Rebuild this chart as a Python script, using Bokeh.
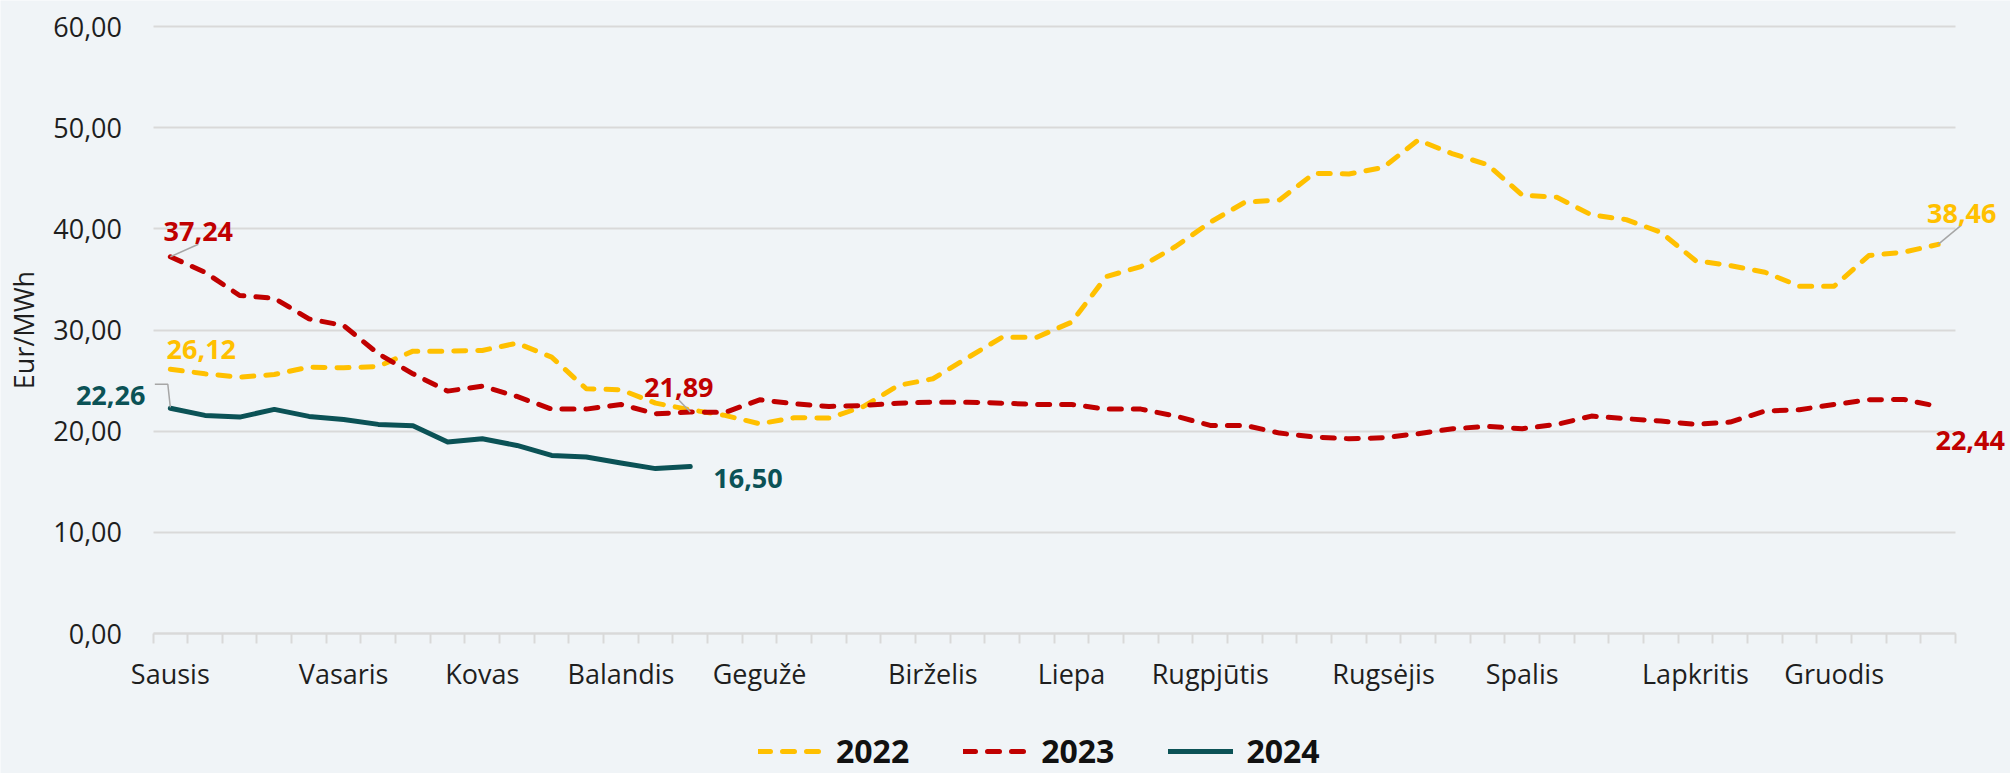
from bokeh.plotting import figure
from bokeh.models import Range1d, FixedTicker, Label, Legend, LegendItem
from bokeh.embed import file_html
from bokeh.resources import INLINE

# ---------------- data ----------------
months = ["Sausis", "Vasaris", "Kovas", "Balandis", "Gegužė", "Birželis",
          "Liepa", "Rugpjūtis", "Rugsėjis", "Spalis", "Lapkritis", "Gruodis"]
month_week = [0, 5, 9, 13, 17, 22, 26, 30, 35, 39, 44, 48]

y2022 = [26.12, 25.67, 25.34, 25.60, 26.33, 26.26, 26.40, 27.91, 27.91, 27.98,
         28.70, 27.32, 24.19, 24.09, 22.77, 22.12, 21.56, 20.73, 21.33, 21.29,
         22.44, 24.52, 25.18, 27.25, 29.29, 29.29, 30.77, 35.28, 36.27, 38.25,
         40.65, 42.63, 42.86, 45.49, 45.42, 46.08, 48.78, 47.40, 46.35, 43.33,
         43.12, 41.37, 40.91, 39.66, 36.86, 36.37, 35.71, 34.33, 34.33, 37.36,
         37.69, 38.46]
y2023 = [37.24, 35.71, 33.41, 33.14, 31.10, 30.44, 27.65, 25.67, 23.96, 24.45,
         23.43, 22.18, 22.18, 22.64, 21.72, 21.89, 21.85, 23.10, 22.71, 22.44,
         22.54, 22.77, 22.87, 22.87, 22.77, 22.64, 22.64, 22.18, 22.18, 21.49,
         20.57, 20.57, 19.81, 19.42, 19.25, 19.35, 19.75, 20.24, 20.47, 20.24,
         20.67, 21.49, 21.23, 21.00, 20.67, 20.90, 21.98, 22.12, 22.64, 23.10,
         23.14, 22.44]
y2024 = [22.26, 21.56, 21.39, 22.15, 21.46, 21.16, 20.67, 20.53, 18.92, 19.25,
         18.59, 17.60, 17.44, 16.85, 16.30, 16.50]
y_ticks = [0, 10, 20, 30, 40, 50, 60]
series_names = ["2022", "2023", "2024"]
y_title = "Eur/MWh"

# ---------------- style / layout ----------------
BG = "#F0F4F7"
GRID = "#D9D9D9"
C22, C23, C24 = "#FFC000", "#C00000", "#0B5256"
TXT = "#1E1E1E"
FONT = "Open Sans"

W, H = 2010, 773
Y60_PX, Y0_PX = 26.0, 633.0             # pixel rows of values 60 and 0
PLOT_L, PLOT_R = 152.5, 1955.0          # where the category axis spans
N = len(y2022)
PX_X = (PLOT_R - PLOT_L) / N
PX_Y = (Y0_PX - Y60_PX) / 60.0
x_start = -0.5 - PLOT_L / PX_X
x_end = N - 0.5 + (W - PLOT_R) / PX_X
y_start = -(H - Y0_PX) / PX_Y
y_end = 60 + Y60_PX / PX_Y

# the frame covers the whole canvas so that no label is clipped
p = figure(width=W, height=H, output_backend="svg", toolbar_location=None,
           x_range=Range1d(x_start, x_end), y_range=Range1d(y_start, y_end),
           min_border_left=0, min_border_right=0,
           min_border_top=0, min_border_bottom=0,
           background_fill_color=BG, border_fill_color=BG,
           outline_line_color=None)

# grid lines limited to the category span
grid = p.ygrid[0]
grid.ticker = FixedTicker(ticks=y_ticks)
if "cross_bounds" in grid.properties():
    grid.cross_bounds = (-0.5, N - 0.5)
    grid.grid_line_color = GRID
    grid.grid_line_width = 2
else:
    grid.grid_line_color = None
    p.segment(x0=[-0.5] * len(y_ticks), x1=[N - 0.5] * len(y_ticks),
              y0=y_ticks, y1=y_ticks, line_color=GRID, line_width=2)
p.xgrid.grid_line_color = None

x22 = list(range(len(y2022)))
x23 = list(range(len(y2023)))
x24 = list(range(len(y2024)))

r22 = p.line(x22, y2022, line_color=C22, line_width=5, line_dash="12 12",
             line_cap="round", line_join="round")
r23 = p.line(x23, y2023, line_color=C23, line_width=5, line_dash="12 12",
             line_cap="round", line_join="round")
r24 = p.line(x24, y2024, line_color=C24, line_width=5,
             line_cap="round", line_join="round")

# x axis, fixed at value 0
xa = p.xaxis[0]
xa.fixed_location = 0
xa.bounds = (-0.5, N - 0.5)
xa.ticker = FixedTicker(ticks=month_week,
                        minor_ticks=[i - 0.5 for i in range(N + 1)])
xa.major_label_overrides = {w: m for w, m in zip(month_week, months)}
xa.major_tick_line_color = None
xa.major_tick_out = 0
xa.major_tick_in = 0
xa.minor_tick_line_color = GRID
xa.minor_tick_line_width = 2
xa.minor_tick_out = 10
xa.minor_tick_in = 0
xa.axis_line_color = GRID
xa.axis_line_width = 2
xa.major_label_text_font = FONT
xa.major_label_text_font_size = "27px"
xa.major_label_text_color = TXT
xa.major_label_standoff = 11

# y axis, fixed at the left edge of the category span
ya = p.yaxis[0]
ya.fixed_location = -0.5
ya.bounds = (0, 60)
ya.ticker = FixedTicker(ticks=y_ticks)
ya.major_label_overrides = {t: f"{t:.2f}".replace(".", ",") for t in y_ticks}
ya.axis_line_color = None
ya.major_tick_line_color = None
ya.major_tick_out = 0
ya.major_tick_in = 0
ya.minor_tick_line_color = None
ya.major_label_standoff = 31
ya.major_label_text_font = FONT
ya.major_label_text_font_size = "27px"
ya.major_label_text_color = TXT

# y axis title, centred on the value span
p.add_layout(Label(x=x_start + 22.5 / PX_X, y=(y_ticks[0] + y_ticks[-1]) / 2,
                   text=y_title, angle=90, angle_units="deg",
                   text_align="center", text_baseline="middle",
                   text_font=FONT, text_font_size="27px", text_color=TXT))

# data labels
def fmt(v):
    return f"{v:.2f}".replace(".", ",")

last24 = len(y2024) - 1
label_specs = [
    # (x index, value, color, align, x_off, y_off)
    (0, y2023[0], C23, "center", 28, 25),
    (0, y2022[0], C22, "center", 31, 19.5),
    (0, y2024[0], C24, "right", -25, 12.6),
    (last24, y2024[-1], C24, "left", 23, -12),
    (last24, y2023[last24], C23, "center", -11.5, 24.7),
    (N - 1, y2022[-1], C22, "center", 23.6, 31),
    (N - 1, y2023[-1], C23, "center", 32, -34),
]
for xi, v, c, al, xo, yo in label_specs:
    p.add_layout(Label(x=xi, y=v, text=fmt(v), x_offset=xo, y_offset=yo,
                       text_align=al, text_baseline="alphabetic",
                       text_font=FONT, text_font_size="27px",
                       text_font_style="bold", text_color=c))

# leader lines (pixel offsets from the data point, screen y down)
leaders = [
    (0, y2023[0], [(0, 0), (28, -12.5)]),
    (0, y2024[0], [(0, -1), (-2.5, -24), (-15.5, -24)]),
    (last24, y2023[last24], [(0, 0), (-11.5, -12)]),
    (N - 1, y2022[-1], [(0, 0), (23.5, -19.5)]),
]
xs, ys = [], []
for xi, v, pts in leaders:
    xs.append([xi + dx / PX_X for dx, dy in pts])
    ys.append([v - dy / PX_Y for dx, dy in pts])
p.multi_line(xs, ys, line_color="#A6A6A6", line_width=1.5)

# legend inside the frame, below the category labels
legend = Legend(items=[LegendItem(label=n, renderers=[r])
                       for n, r in zip(series_names, [r22, r23, r24])],
                orientation="horizontal", location=(758, 1),
                glyph_width=65, glyph_height=20, label_standoff=13,
                spacing=54, padding=0, margin=0,
                label_text_font=FONT, label_text_font_size="32px",
                label_text_font_style="bold", label_text_color="#111111",
                background_fill_alpha=0, border_line_color=None)
p.add_layout(legend)

open("out.html", "w").write(file_html(p, INLINE))
